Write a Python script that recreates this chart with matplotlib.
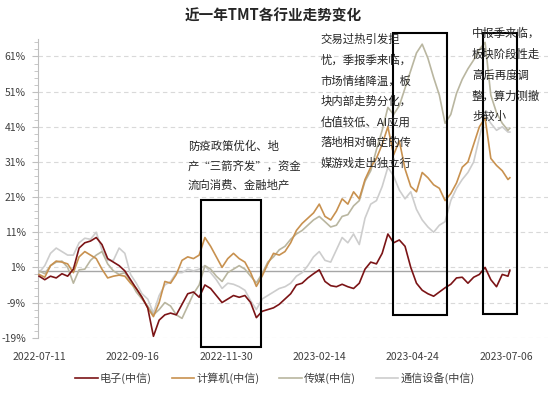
import numpy as np
import matplotlib
matplotlib.use("Agg")
import matplotlib.pyplot as plt
from matplotlib.ticker import MultipleLocator, FuncFormatter
from matplotlib.patches import Rectangle

plt.rcParams['font.family'] = ['Noto Sans CJK SC', 'DejaVu Sans']
plt.rcParams['axes.unicode_minus'] = False

# ---------------------------------------------------------------- data
# trading-day index (every 3rd day) and cumulative change in %
days = list(range(0, 247, 3)) + [247]

elec = [-1.5, -2.5, -1.5, -2.0, -0.8, -1.5, 0.5, 6.5, 8.0, 8.5, 9.5, 7.5, 3.5, 2.5,
        1.5, 0.0, -2.5, -5.0, -7.5, -10.5, -18.6, -14.0, -12.5, -12.0, -12.5, -9.5,
        -6.5, -6.0, -7.5, -4.0, -5.0, -7.0, -9.0, -8.0, -7.0, -7.5, -7.0, -9.0, -13.3,
        -11.5, -11.0, -10.5, -9.5, -8.0, -6.5, -4.0, -3.5, -2.0, -0.8, 0.3, -3.0, -4.2,
        -4.5, -3.8, -4.5, -5.0, -3.5, 0.5, 2.5, 2.0, 5.0, 10.5, 8.0, 8.8, 7.0, 1.0,
        -3.5, -5.5, -6.5, -7.2, -6.0, -4.8, -3.8, -2.0, -1.8, -3.5, -1.8, -1.0, 1.0,
        -2.5, -4.5, -1.0, -1.5, 0.2]

comp = [-1.0, -1.8, 1.5, 2.8, 2.5, 2.0, -0.5, 4.0, 5.5, 4.5, 3.5, 0.5, -2.0, -1.5,
        -1.2, -1.5, -3.5, -5.0, -7.5, -10.5, -13.0, -9.0, -3.0, -3.5, -1.0, 3.0, 4.0,
        3.5, 4.5, 9.5, 7.0, 4.0, 1.0, 3.5, 5.0, 3.5, 2.5, -0.5, -4.4, -1.5, 2.0, 5.0,
        4.5, 5.5, 8.0, 11.5, 13.5, 15.0, 16.5, 19.0, 15.5, 14.5, 17.0, 20.5, 19.0,
        22.5, 20.5, 26.0, 29.5, 32.0, 36.0, 41.0, 33.0, 37.0, 29.0, 24.0, 22.5, 28.0,
        26.5, 24.5, 23.5, 20.0, 22.0, 25.0, 29.5, 31.0, 36.0, 41.0, 43.5, 32.0, 30.0,
        28.5, 26.0, 26.5]

media = [0.0, -0.8, 1.5, 2.5, 2.8, 1.0, -3.5, 0.3, 0.5, 3.0, 4.5, 5.5, 2.0, 0.0,
         -1.0, -0.5, -3.0, -6.0, -8.0, -10.0, -12.5, -11.0, -9.0, -10.0, -12.5, -13.5,
         -10.0, -6.5, -4.0, 1.5, 0.5, -1.5, -3.0, -0.5, 0.5, 1.5, 0.5, -1.5, -3.4,
         -0.8, 2.5, 4.0, 6.0, 7.0, 9.0, 10.5, 11.5, 13.0, 14.5, 15.5, 14.0, 12.5, 13.0,
         15.5, 16.0, 18.5, 20.0, 25.5, 28.5, 34.5, 40.0, 46.5, 44.5, 47.0, 52.0, 57.0,
         62.0, 64.5, 60.5, 55.0, 50.0, 42.0, 44.5, 50.5, 54.5, 57.5, 60.0, 63.0, 65.0,
         50.0, 45.0, 42.0, 40.0, 40.6]

telecom = [-0.5, 1.5, 5.0, 6.5, 5.5, 4.5, 4.5, 8.0, 9.3, 9.0, 11.0, 6.0, 3.0, 3.0,
           6.5, 5.0, -1.0, -3.5, -6.5, -8.0, -12.0, -7.0, -4.0, -3.0, -0.5, -0.5, 0.5,
           0.0, 0.5, 1.5, -0.5, -2.5, -5.0, -3.5, -3.8, -4.5, -5.5, -8.5, -11.0, -8.0,
           -7.0, -6.0, -5.0, -4.5, -3.5, -1.5, -0.5, 1.5, 4.0, 5.5, 3.0, 2.5, 6.0, 9.5,
           8.0, 10.5, 7.5, 15.0, 19.0, 20.0, 24.0, 29.5, 27.0, 23.0, 20.5, 22.5, 17.5,
           14.5, 12.5, 11.0, 13.0, 14.0, 20.0, 23.5, 26.0, 28.0, 31.0, 38.0, 44.5, 42.0,
           40.0, 41.0, 39.5, 39.5]

series_names = ['电子(中信)', '计算机(中信)', '传媒(中信)', '通信设备(中信)']
series_colors = ['#7b1416', '#c8914f', '#b9b6a0', '#cdcdcd']

tick_days = [0, 49, 98, 147, 196, 245]
tick_labels = ['2022-07-11', '2022-09-16', '2022-11-30', '2023-02-14', '2023-04-24', '2023-07-06']

# highlighted periods: (start day, end day, bottom %, top %)
boxes = [(85.2, 116.6, -21.6, 20.2),
         (185.9, 213.9, -12.5, 67.6),
         (233.1, 250.6, -12.2, 67.6)]

notes = [
    (188, 146.7, 19.3, ['防疫政策优化、地', '产“三箭齐发”，资金', '流向消费、金融地产']),
    (320.5, 39.5, 20.6, ['交易过热引发担', '忧，季报季来临，', '市场情绪降温，板',
                         '块内部走势分化，', '估值较低、AI应用', '落地相对确定的传',
                         '媒游戏走出独立行']),
    (472, 33.5, 20.8, ['中报季来临，', '板块阶段性走', '高后再度调', '整，算力测撤', '步较小']),
]

# ---------------------------------------------------------------- figure
W, H = 550, 394
fig = plt.figure(figsize=(W / 100, H / 100), dpi=100)
ax = fig.add_axes([38.3 / W, 1 - 337.7 / H, (548 - 38.3) / W, (337.7 - 38.9) / H])

ax.set_xlim(-0.4, 267)
ax.set_ylim(-19, 66)

# grid + zero line
for v in np.arange(-19, 62, 10):
    ax.axhline(v, color='#d9d9d9', lw=0.8, ls=(0, (4, 3)), zorder=0)
ax.hlines(0, days[0], days[-1], color='#a6a6a6', lw=1.0, zorder=1)

data = [elec, comp, media, telecom]
for i in range(3, -1, -1):
    ax.plot(days, data[i], color=series_colors[i], lw=1.2, label=series_names[i], zorder=2 + (3 - i))

for x0, x1, y0, y1 in boxes:
    ax.add_patch(Rectangle((x0, y0), x1 - x0, y1 - y0, fill=False, ec='black', lw=1.5,
                           clip_on=False, zorder=6))

# axes styling
for s in ['top', 'right', 'bottom']:
    ax.spines[s].set_visible(False)
ax.spines['left'].set_color('#bfbfbf')
ax.set_yticks(np.arange(-19, 62, 10))
ax.yaxis.set_minor_locator(MultipleLocator(2, offset=1))
ax.yaxis.set_major_formatter(FuncFormatter(lambda v, p: f'{v:.0f}%'))
ax.tick_params(axis='y', which='major', length=4, color='#bfbfbf', labelsize=7.5,
               labelcolor='#404040', pad=5)
ax.tick_params(axis='y', which='minor', length=3, color='#bfbfbf')
ax.set_xticks(tick_days)
ax.set_xticklabels(tick_labels)
ax.tick_params(axis='x', length=0, labelsize=7.5, labelcolor='#404040', pad=10)

# title
fig.text(273 / W, 1 - 16 / H, '近一年TMT各行业走势变化', ha='center', va='center',
         fontsize=10.5, fontweight='bold', color='#262626')

# annotations
for x, y, step, lines in notes:
    for k, line in enumerate(lines):
        fig.text(x / W, 1 - (y + k * step) / H, line, ha='left', va='center',
                 fontsize=8.2, color='#262626', zorder=5)

handles, labels = ax.get_legend_handles_labels()
order = [3, 2, 1, 0]
fig.legend([handles[i] for i in order], [labels[i] for i in order], loc='center',
           bbox_to_anchor=(275 / W, 1 - 378 / H), ncol=4, frameon=False, fontsize=8,
           handlelength=2.0, handletextpad=0.2, columnspacing=1.8, labelcolor='#404040')

fig.savefig('out.png', dpi=100)
